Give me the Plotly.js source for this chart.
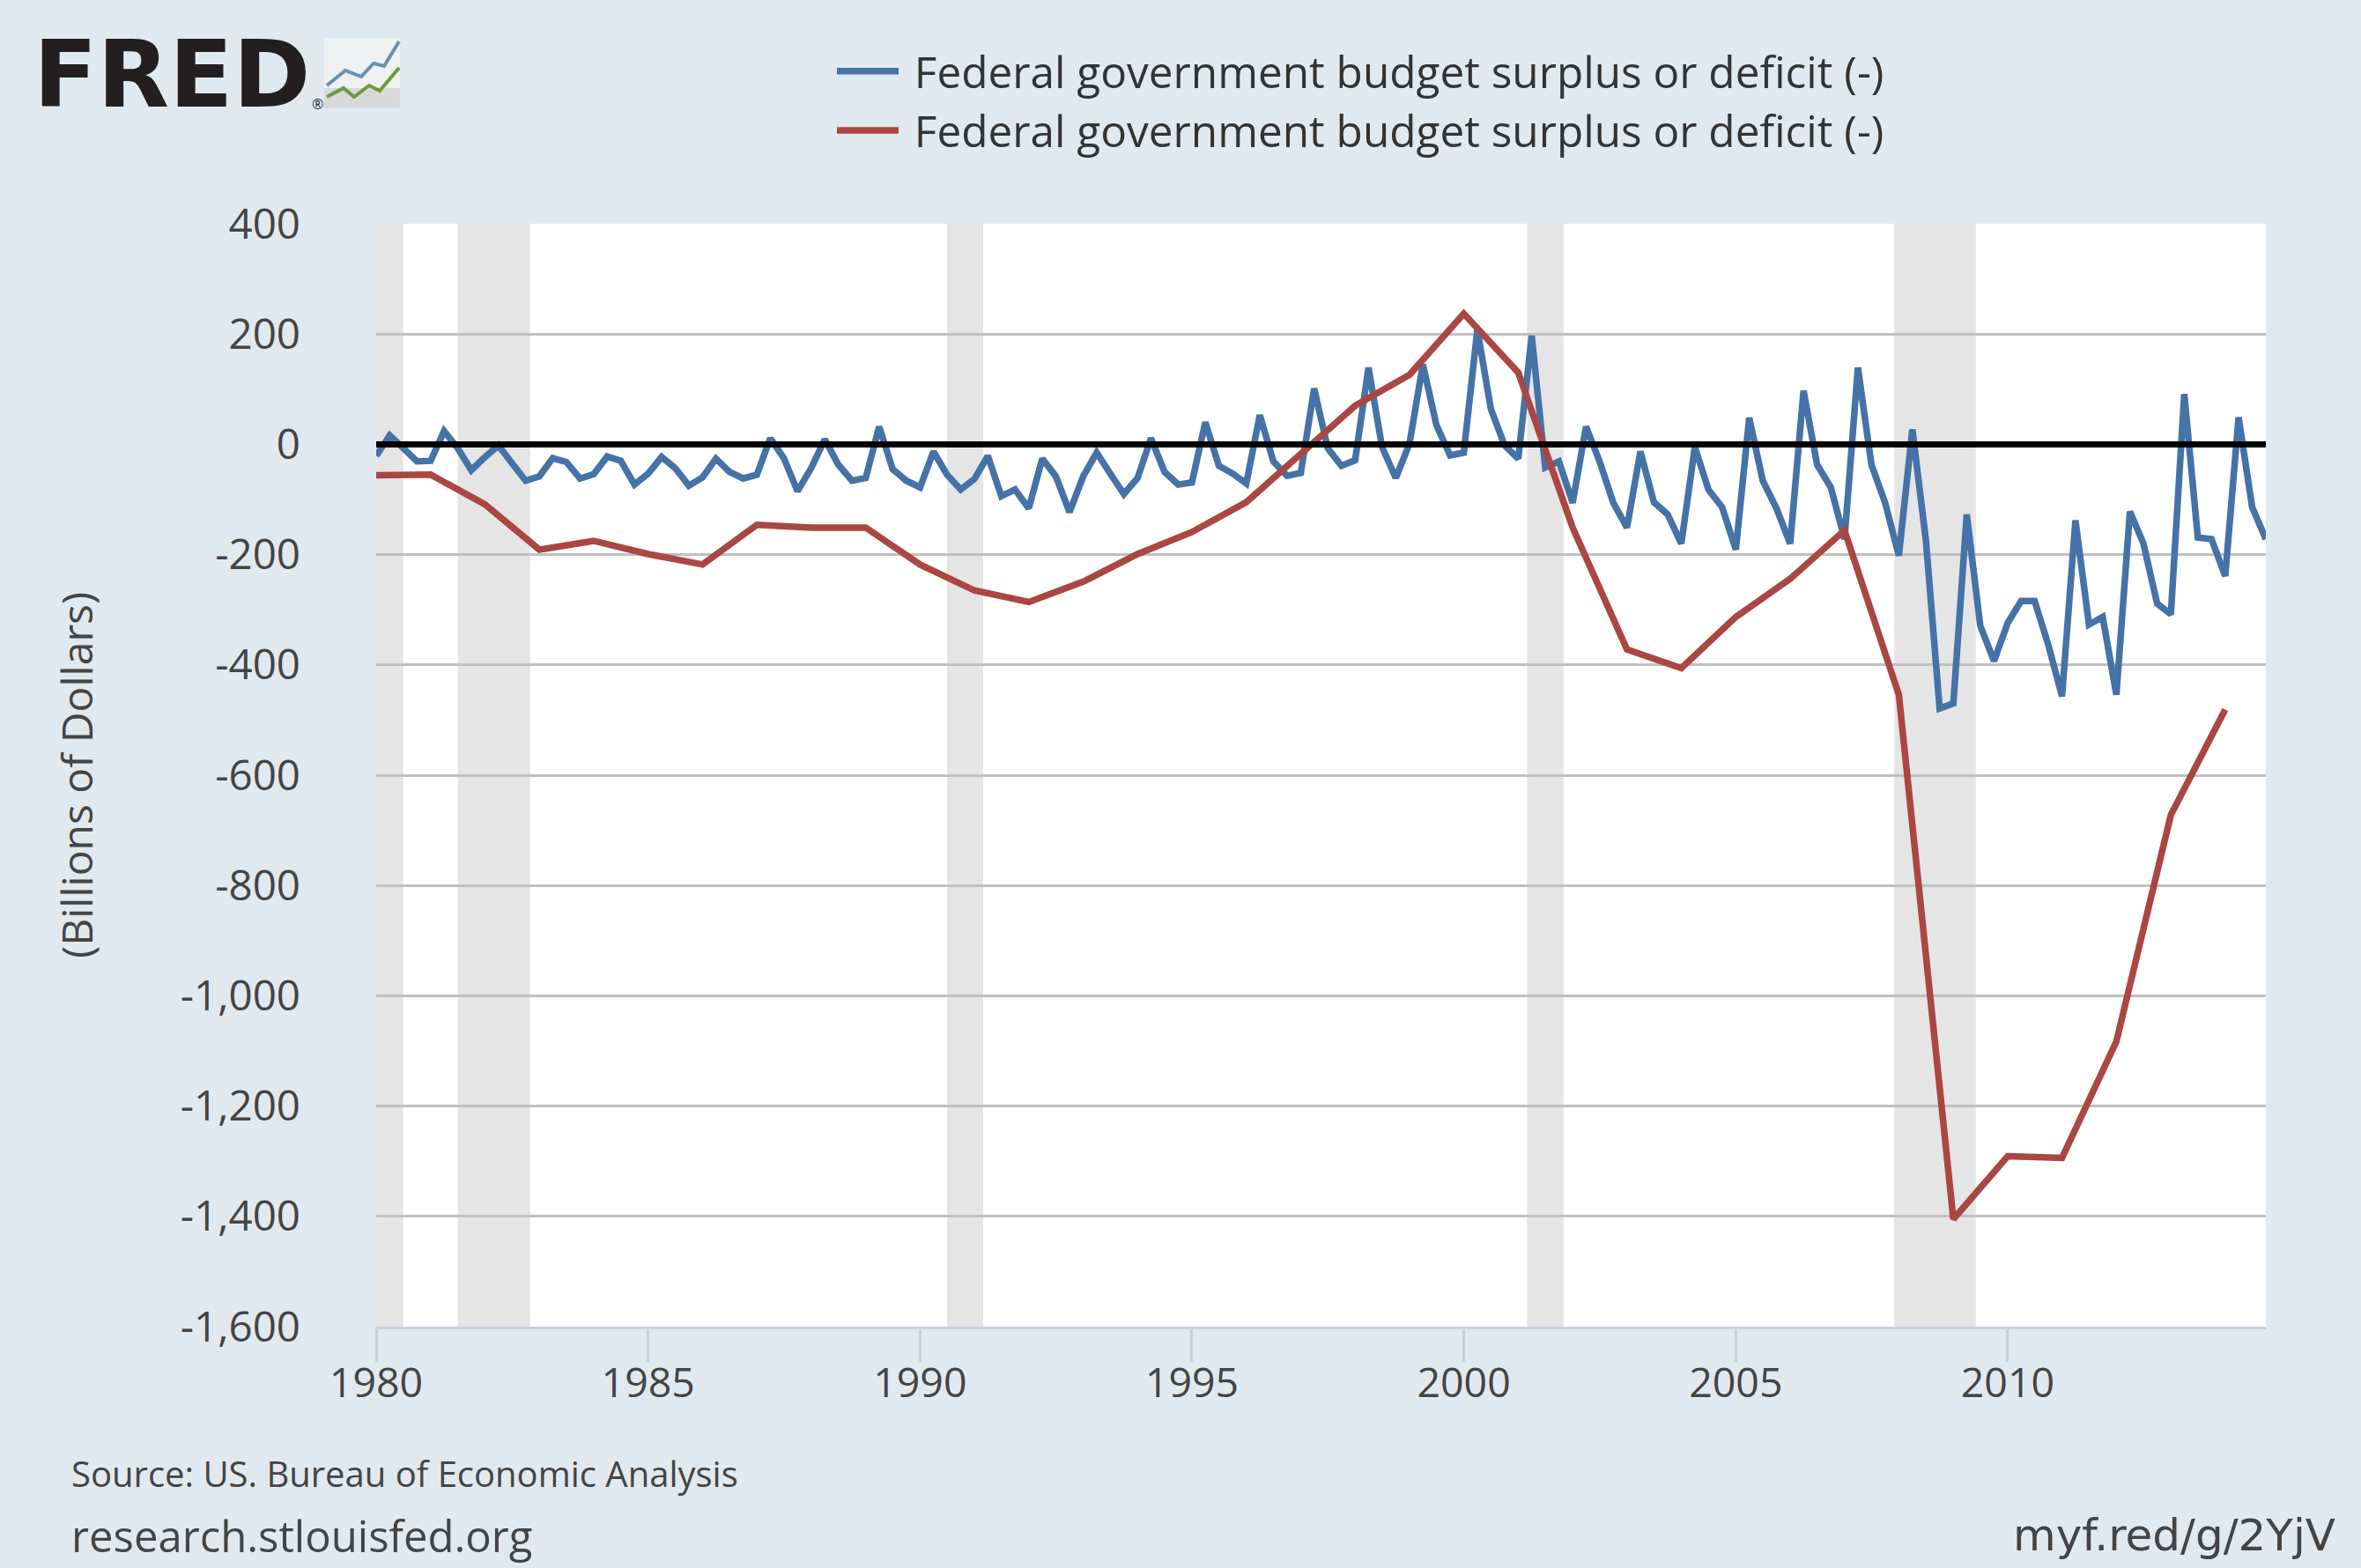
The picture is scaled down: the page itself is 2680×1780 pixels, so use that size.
<!DOCTYPE html>
<html>
<head>
<meta charset="utf-8">
<script src="https://cdn.plot.ly/plotly-3.0.1.min.js"></script>
<style>
  html, body { margin: 0; padding: 0; background: #e1e9f0; }
  #chart { width: 2680px; height: 1780px; }
</style>
</head>
<body>
<div id="chart"></div>
<script>
// ---------------- DATA ----------------
const seriesName = 'Federal government budget surplus or deficit (-)';

// Quarterly, not seasonally adjusted, billions of dollars, 1980Q1 .. 2014Q4
const blueStartYear = 1980;
const blueValues = [
  -21, 16, -7, -31,      // 1980
  -30, 24, -7, -47,      // 1981
  -23, -2, -34, -66,     // 1982
  -58, -25, -32, -62,    // 1983
  -54, -22, -30, -73,    // 1984
  -53, -23, -43, -75,    // 1985
  -60, -26, -50, -62,    // 1986
  -55, 11, -25, -85,     // 1987
  -43, 9, -37, -66,      // 1988
  -61, 32, -45, -66,     // 1989
  -78, -13, -55, -82,    // 1990
  -63, -21, -94, -82,    // 1991
  -116, -26, -58, -123,  // 1992
  -58, -15, -53, -90,    // 1993
  -61, 11, -50, -73,     // 1994
  -69, 40, -39, -53,     // 1995
  -71, 53, -31, -57,     // 1996
  -52, 101, -7, -39,     // 1997
  -29, 139, -5, -61,     // 1998
  1, 145, 35, -20,       // 1999
  -15, 208, 64, -2,      // 2000
  -26, 197, -42, -31,    // 2001
  -106, 32, -31, -106,   // 2002
  -151, -13, -105, -127, // 2003
  -180, -5, -82, -114,   // 2004
  -191, 48, -66, -116,   // 2005
  -180, 97, -37, -78,    // 2006
  -172, 139, -37, -106,  // 2007
  -202, 27, -175, -479,  // 2008
  -470, -127, -329, -393,// 2009
  -324, -284, -284, -364,// 2010
  -457, -138, -327, -313,// 2011
  -454, -122, -180, -289,// 2012
  -308, 91, -169, -172,  // 2013
  -239, 49, -114, -172   // 2014
];

// Annual, billions of dollars, 1980 .. 2014
const redYears = [1980,1981,1982,1983,1984,1985,1986,1987,1988,1989,1990,1991,1992,1993,1994,1995,1996,1997,1998,1999,2000,2001,2002,2003,2004,2005,2006,2007,2008,2009,2010,2011,2012,2013,2014];
const redValues = [-56,-55,-109,-191,-175,-199,-218,-146,-151,-151,-218,-265,-286,-249,-199,-159,-105,-18,70,126,237,130,-151,-372,-406,-313,-244,-156,-454,-1405,-1291,-1294,-1083,-672,-481];

// NBER recessions
const recessionStarts = ['1980-01-01','1981-07-01','1990-07-01','2001-03-01','2007-12-01'];
const recessionEnds   = ['1980-07-01','1982-11-01','1991-03-01','2001-11-01','2009-06-01'];

// Axis ticks
const xTickVals = ['1980-01-01','1985-01-01','1990-01-01','1995-01-01','2000-01-01','2005-01-01','2010-01-01'];
const xTickText = ['1980','1985','1990','1995','2000','2005','2010'];
const yTickVals = [400,200,0,-200,-400,-600,-800,-1000,-1200,-1400,-1600];
const yTickText = ['400','200','0','-200','-400','-600','-800','-1,000','-1,200','-1,400','-1,600'];

// ---------------- BUILD ----------------
const blueDates = blueValues.map((v, i) => {
  const y = blueStartYear + Math.floor(i / 4);
  const m = (i % 4) * 3 + 1;
  return y + '-' + String(m).padStart(2, '0') + '-01';
});
const redDates = redYears.map(y => y + '-01-01');

const W = 2680, H = 1780;
const M = { l: 427, r: 108, t: 254, b: 274 };
const PW = W - M.l - M.r, PH = H - M.t - M.b;
const px = x => (x - M.l) / PW;
const py = y => (H - M.b - y) / PH;

const FONT = '"Open Sans", "Noto Sans", sans-serif';
const GAP = '\u00a0';

const traces = [
  { type: 'scatter', mode: 'lines', name: GAP + seriesName, x: blueDates, y: blueValues,
    line: { color: '#4572a7', width: 7.5, shape: 'linear' }, hoverinfo: 'x+y' },
  { type: 'scatter', mode: 'lines', name: GAP + seriesName, x: redDates, y: redValues,
    line: { color: '#aa4643', width: 7.5, shape: 'linear' }, hoverinfo: 'x+y' }
];

const shapes = recessionStarts.map((s, i) => ({
  type: 'rect', xref: 'x', yref: 'paper', x0: s, x1: recessionEnds[i], y0: 0, y1: 1,
  fillcolor: '#e5e5e5', line: { width: 0 }, layer: 'below'
}));
// zero line
shapes.push({ type: 'line', xref: 'paper', yref: 'y', x0: 0, x1: 1, y0: 0, y1: 0,
  line: { color: '#000000', width: 7 }, layer: 'above' });

// FRED logo icon (decoration)
shapes.push({ type: 'rect', xref: 'paper', yref: 'paper', x0: px(368), x1: px(454), y0: py(123), y1: py(43),
  fillcolor: '#eef1f2', line: { width: 0 }, layer: 'above' });
shapes.push({ type: 'rect', xref: 'paper', yref: 'paper', x0: px(368), x1: px(454), y0: py(123), y1: py(100),
  fillcolor: '#d8d9da', line: { width: 0 }, layer: 'above' });
const bluePts = [[371,97],[392,80],[410,87],[424,72],[436,75],[453,47]];
const greenPts = [[371,110],[390,100],[402,110],[419,97],[431,103],[453,77]];
const mkPath = pts => pts.map((p, i) => (i ? 'L' : 'M') + px(p[0]) + ',' + py(p[1])).join(' ');
shapes.push({ type: 'path', xref: 'paper', yref: 'paper', path: mkPath(bluePts),
  line: { color: '#6a8fb3', width: 4 }, layer: 'above' });
shapes.push({ type: 'path', xref: 'paper', yref: 'paper', path: mkPath(greenPts),
  line: { color: '#6d9a3a', width: 4 }, layer: 'above' });

const annotations = [
  { text: '<b>FRED</b>', xref: 'paper', yref: 'paper', x: px(36), y: py(84), xanchor: 'left', yanchor: 'middle',
    showarrow: false, font: { family: '"DejaVu Sans", "Liberation Sans", sans-serif', size: 106, color: '#231f20' } },
  { text: '®', xref: 'paper', yref: 'paper', x: px(360), y: py(118), xanchor: 'center', yanchor: 'middle',
    showarrow: false, font: { family: FONT, size: 16, color: '#231f20' } },
  { text: '(Billions of Dollars)', xref: 'paper', yref: 'paper', x: px(86), y: 0.5, xanchor: 'center', yanchor: 'middle',
    textangle: -90, showarrow: false, font: { family: FONT, size: 48, color: '#444444' } },
  { text: 'Source: US. Bureau of Economic Analysis', xref: 'paper', yref: 'paper', x: px(79), y: py(1672),
    xanchor: 'left', yanchor: 'middle', showarrow: false, font: { family: FONT, size: 40, color: '#444444' } },
  { text: 'research.stlouisfed.org', xref: 'paper', yref: 'paper', x: px(79), y: py(1743),
    xanchor: 'left', yanchor: 'middle', showarrow: false, font: { family: FONT, size: 49, color: '#444444' } },
  { text: 'myf.red/g/2YjV', xref: 'paper', yref: 'paper', x: px(2653), y: py(1743),
    xanchor: 'right', yanchor: 'middle', showarrow: false, font: { family: '"DejaVu Sans", sans-serif', size: 50, color: '#444444' } }
];

const layout = {
  width: W, height: H,
  margin: M,
  paper_bgcolor: '#e1e9f0',
  plot_bgcolor: '#ffffff',
  font: { family: FONT, color: '#444444' },
  showlegend: true,
  legend: {
    x: px(945), y: py(42), xanchor: 'left', yanchor: 'top',
    bgcolor: 'rgba(0,0,0,0)', borderwidth: 0,
    font: { family: FONT, size: 49.5, color: '#333333' },
    itemwidth: 70, tracegroupgap: 0, orientation: 'v'
  },
  xaxis: {
    type: 'date', range: ['1980-01-01', '2014-10-01'],
    tickmode: 'array', tickvals: xTickVals, ticktext: xTickText,
    showgrid: false, zeroline: false,
    showline: true, linecolor: '#c3d2e1', linewidth: 3,
    ticks: 'outside', ticklen: 37, tickwidth: 3, tickcolor: '#c3d2e1',
    ticklabelstandoff: -16,
    tickfont: { family: FONT, size: 46.5, color: '#444444' }
  },
  yaxis: {
    range: [-1600, 400], tickmode: 'array', tickvals: yTickVals, ticktext: yTickText,
    showgrid: true, gridcolor: '#c0c0c0', gridwidth: 3,
    zeroline: false, showline: false, ticks: '',
    ticklabelstandoff: 85,
    tickfont: { family: FONT, size: 47.5, color: '#444444' }
  },
  shapes: shapes,
  annotations: annotations
};

Plotly.newPlot('chart', traces, layout, { displayModeBar: false, staticPlot: true });
</script>
</body>
</html>
